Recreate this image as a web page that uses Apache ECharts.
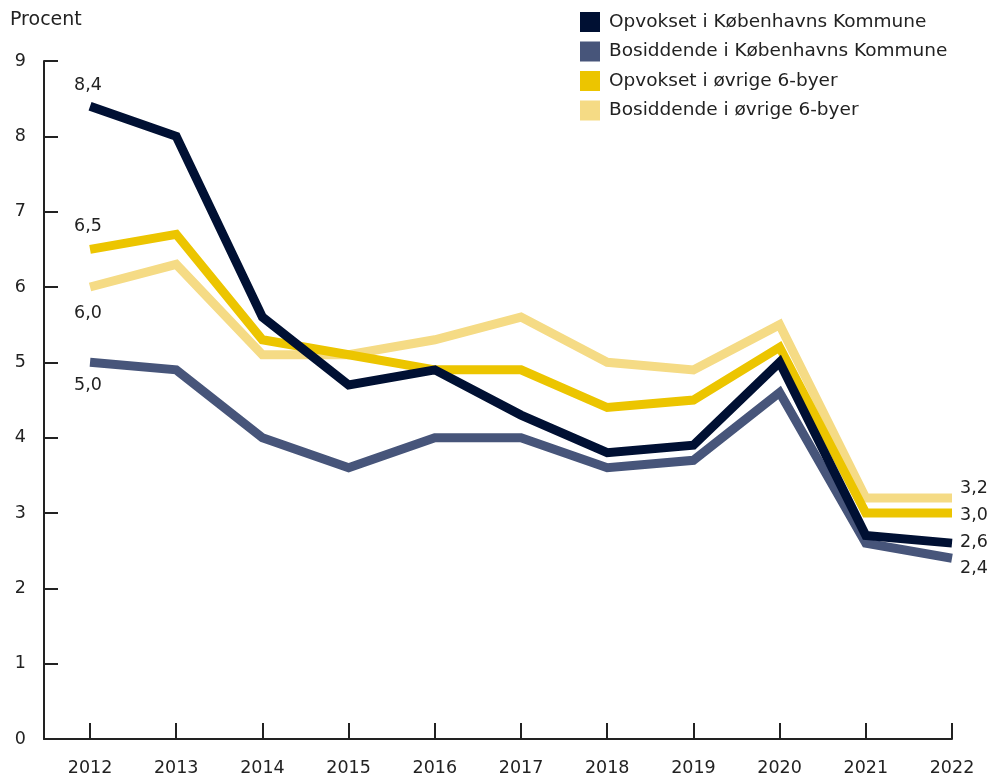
<!DOCTYPE html>
<html>
<head>
<meta charset="utf-8">
<script src="https://cdn.jsdelivr.net/npm/echarts@6/dist/echarts.min.js"></script>
<style>
html,body{margin:0;padding:0;background:#fff;}
#chart{width:993px;height:777px;}
</style>
</head>
<body>
<div id="chart"></div>
<script>
const years = [2012, 2013, 2014, 2015, 2016, 2017, 2018, 2019, 2020, 2021, 2022];
const opvoksetKK = [8.4, 8.0, 5.6, 4.7, 4.9, 4.3, 3.8, 3.9, 5.0, 2.7, 2.6];
const bosiddendeKK = [5.0, 4.9, 4.0, 3.6, 4.0, 4.0, 3.6, 3.7, 4.6, 2.6, 2.4];
const opvoksetByer = [6.5, 6.7, 5.3, 5.1, 4.9, 4.9, 4.4, 4.5, 5.2, 3.0, 3.0];
const bosiddendeByer = [6.0, 6.3, 5.1, 5.1, 5.3, 5.6, 5.0, 4.9, 5.5, 3.2, 3.2];
const yTicks = [0, 1, 2, 3, 4, 5, 6, 7, 8, 9];

const names = ['Opvokset i Københavns Kommune', 'Bosiddende i Københavns Kommune', 'Opvokset i øvrige 6-byer', 'Bosiddende i øvrige 6-byer'];
const colors = ['#001033', '#47557a', '#ecc500', '#f5db85'];
const FONT = 'DejaVu Sans';
const TXT = '#222';
const FS = 17.5;

function fmt(v) { return v.toFixed(1).replace('.', ','); }

const labelCfg = [
  { start: 'top', sDist: 12, end: -1 },
  { start: 'bottom', sDist: 14, end: 10 },
  { start: 'top', sDist: 14, end: 2 },
  { start: 'bottom', sDist: 17, end: -9 }
];

function buildData(vals, idx) {
  const cfg = labelCfg[idx];
  return vals.map((v, i) => {
    const item = { value: [years[i], v] };
    if (i === 0) {
      item.label = { show: true, position: cfg.start, distance: cfg.sDist, offset: [-2, 0], formatter: fmt(v) };
    } else if (i === vals.length - 1) {
      item.label = { show: true, position: 'right', distance: 8, offset: [0, cfg.end], formatter: fmt(v) };
    }
    return item;
  });
}

const seriesVals = [opvoksetKK, bosiddendeKK, opvoksetByer, bosiddendeByer];
const zs = [5, 3, 2, 1];
const series = seriesVals.map((vals, idx) => ({
  name: names[idx],
  type: 'line',
  data: buildData(vals, idx),
  symbol: 'circle',
  symbolSize: 0,
  showSymbol: true,
  z: zs[idx],
  lineStyle: { color: colors[idx], width: 9, cap: 'butt', join: 'miter' },
  itemStyle: { color: colors[idx] },
  label: { show: false, color: TXT, fontFamily: FONT, fontSize: FS },
  emphasis: { disabled: true }
}));

const chart = echarts.init(document.getElementById('chart'), null, { renderer: 'canvas' });
chart.setOption({
  animation: false,
  backgroundColor: '#fff',
  textStyle: { fontFamily: FONT, color: TXT },
  graphic: [{
    type: 'text', left: 10, top: 11,
    style: { text: 'Procent', fontFamily: FONT, fontSize: 19, fill: TXT }
  }],
  legend: {
    orient: 'vertical',
    left: 580, top: 12, padding: 0,
    itemWidth: 20, itemHeight: 20, itemGap: 9.5,
    icon: 'rect',
    textStyle: { fontFamily: FONT, fontSize: 18.5, color: TXT, padding: [0, 0, 0, 4] },
    data: names.map((n, i) => ({ name: n, itemStyle: { color: colors[i] } }))
  },
  grid: { left: 44, right: 41, top: 61, bottom: 38, containLabel: false },
  xAxis: {
    type: 'value',
    min: 2011.466,
    max: 2022,
    axisLine: { show: true, lineStyle: { color: TXT, width: 2 } },
    axisTick: { show: true, inside: true, length: 16, lineStyle: { color: TXT, width: 2 }, customValues: years },
    axisLabel: { color: TXT, fontFamily: FONT, fontSize: FS, margin: 20, customValues: years, formatter: v => String(v) },
    splitLine: { show: false }
  },
  yAxis: {
    type: 'value',
    min: 0, max: 9, interval: 1,
    axisLine: { show: true, lineStyle: { color: TXT, width: 2 } },
    axisTick: { show: true, inside: true, length: 14, lineStyle: { color: TXT, width: 2 }, customValues: yTicks },
    axisLabel: { color: TXT, fontFamily: FONT, fontSize: FS, margin: 18, customValues: yTicks },
    splitLine: { show: false }
  },
  series: series
});
</script>
</body>
</html>
